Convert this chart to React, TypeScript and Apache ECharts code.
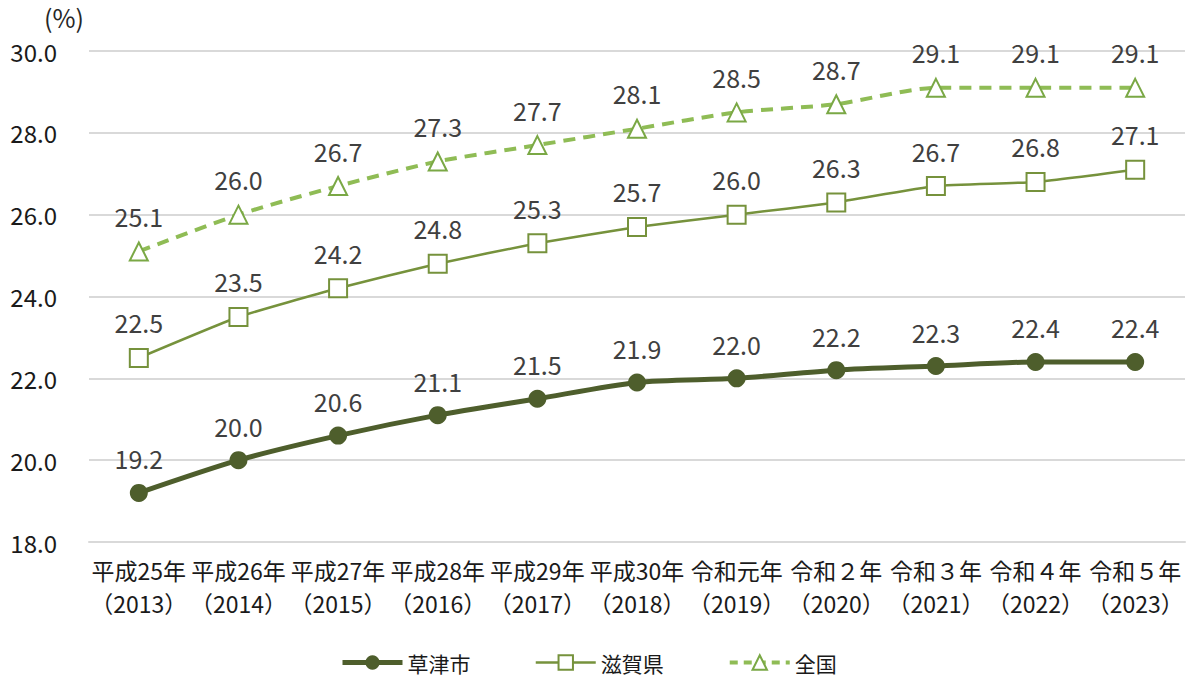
import React, { useEffect, useRef } from "react";
import * as echarts from "echarts";

const categories = [
  "平成25年\n（2013）",
  "平成26年\n（2014）",
  "平成27年\n（2015）",
  "平成28年\n（2016）",
  "平成29年\n（2017）",
  "平成30年\n（2018）",
  "令和元年\n（2019）",
  "令和２年\n（2020）",
  "令和３年\n（2021）",
  "令和４年\n（2022）",
  "令和５年\n（2023）",
];
const kusatsu = [19.2, 20.0, 20.6, 21.1, 21.5, 21.9, 22.0, 22.2, 22.3, 22.4, 22.4];
const shiga = [22.5, 23.5, 24.2, 24.8, 25.3, 25.7, 26.0, 26.3, 26.7, 26.8, 27.1];
const national = [25.1, 26.0, 26.7, 27.3, 27.7, 28.1, 28.5, 28.7, 29.1, 29.1, 29.1];
const seriesNames = ["草津市", "滋賀県", "全国"];

const FONT = "'Noto Sans CJK JP', 'Noto Sans', sans-serif";
const C1 = "#4e5e2c";
const C2 = "#76923c";
const C3 = "#8fbc55";
const C3b = "#7aa845";

export default function App() {
  const ref = useRef<HTMLDivElement>(null);
  useEffect(() => {
    if (!ref.current) return;
    const chart = echarts.init(ref.current, null, { renderer: "svg" });
    const label = {
      show: true,
      position: "top",
      distance: 13,
      color: "#404040",
      fontSize: 25,
      fontFamily: FONT,
      formatter: (p: any) => Number(p.value).toFixed(1),
    };
    chart.setOption({
      animation: false,
      textStyle: { fontFamily: FONT },
      grid: { left: 89, right: 8, top: 51, bottom: 139, containLabel: false },
      graphic: [
        {
          type: "text",
          left: 44,
          top: 4,
          style: { text: "(%)", fontSize: 25, fill: "#262626", fontFamily: FONT },
        },
      ],
      legend: {
        bottom: 3,
        left: 335,
        itemWidth: 60,
        itemHeight: 18,
        itemGap: 64,
        textStyle: { fontSize: 21, color: "#1a1a1a", fontFamily: FONT },
        data: [
          { name: seriesNames[0], lineStyle: { width: 5, color: C1 } },
          { name: seriesNames[1], lineStyle: { width: 2.5, color: C2 } },
          { name: seriesNames[2], lineStyle: { width: 4, color: C3, type: [8, 6] } },
        ],
      },
      xAxis: {
        type: "category",
        data: categories,
        boundaryGap: true,
        axisLine: { show: true, lineStyle: { color: "#d9d9d9", width: 2 } },
        axisTick: { show: false },
        axisLabel: {
          interval: 0,
          fontSize: 23,
          lineHeight: 33,
          color: "#1a1a1a",
          margin: 11,
          fontFamily: FONT,
        },
      },
      yAxis: {
        type: "value",
        min: 18,
        max: 30,
        interval: 2,
        axisLine: { show: false },
        axisTick: { show: false },
        splitLine: { lineStyle: { color: "#d9d9d9", width: 2 } },
        axisLabel: {
          fontSize: 24,
          color: "#1a1a1a",
          margin: 32,
          fontFamily: FONT,
          formatter: (v: number) => v.toFixed(1),
        },
      },
      series: [
        {
          name: seriesNames[0],
          type: "line",
          data: kusatsu,
          smooth: 0.25,
          symbol: "circle",
          symbolSize: 18,
          lineStyle: { color: C1, width: 5 },
          itemStyle: { color: C1 },
          label,
          z: 4,
        },
        {
          name: seriesNames[1],
          type: "line",
          data: shiga,
          smooth: 0.15,
          symbol: "rect",
          symbolSize: 18,
          lineStyle: { color: C2, width: 2.5 },
          itemStyle: { color: "#ffffff", borderColor: C2, borderWidth: 2 },
          label,
          z: 3,
        },
        {
          name: seriesNames[2],
          type: "line",
          data: national,
          smooth: 0.25,
          symbol: "triangle",
          symbolSize: 18,
          lineStyle: { color: C3, width: 4, type: [12, 8] },
          itemStyle: { color: "#ffffff", borderColor: C3b, borderWidth: 2 },
          label,
          z: 2,
        },
      ],
    });
    return () => chart.dispose();
  }, []);
  return (
    <div
      ref={ref}
      style={{ position: "fixed", left: 0, top: 0, width: 1193, height: 681, background: "#fff" }}
    />
  );
}
